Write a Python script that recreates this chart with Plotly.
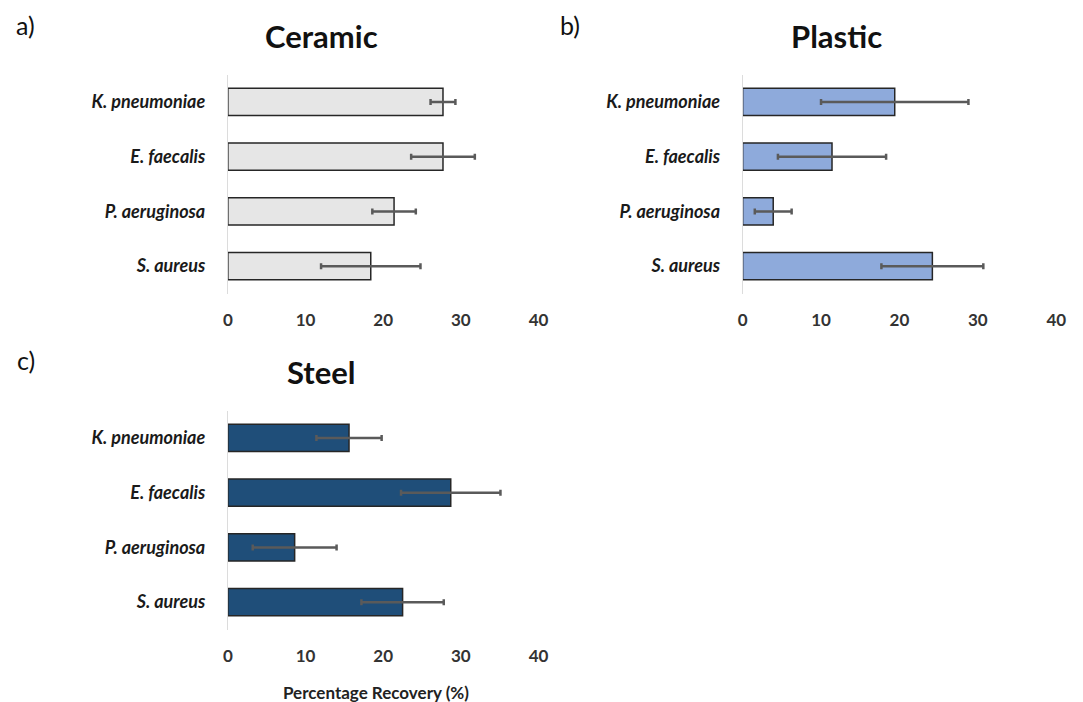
import plotly.graph_objects as go

# Bacterial species (top to bottom)
species = ["K. pneumoniae", "E. faecalis", "P. aeruginosa", "S. aureus"]

# Mean percentage recovery and error (SD) per surface
ceramic_mean = [27.7, 27.7, 21.4, 18.4]
ceramic_err = [1.6, 4.1, 2.8, 6.4]

plastic_mean = [19.4, 11.4, 3.9, 24.2]
plastic_err = [9.4, 6.9, 2.35, 6.5]

steel_mean = [15.6, 28.7, 8.6, 22.5]
steel_err = [4.2, 6.4, 5.4, 5.3]

x_ticks = [0, 10, 20, 30, 40]

W, H = 1083, 702
FONT = "Lato"

panels = [
    # name, means, errors, fill, xaxis id, yaxis id, x domain px, y domain px
    ("Ceramic", ceramic_mean, ceramic_err, "#e6e6e6", "x", "y", (226, 541), (74.5, 293.5)),
    ("Plastic", plastic_mean, plastic_err, "#8eaadb", "x2", "y2", (748, 1066), (74.5, 293.5)),
    ("Steel", steel_mean, steel_err, "#1f4e79", "x3", "y3", (226, 541), (410.5, 629.5)),
]

fig = go.Figure()

for name, means, errs, fill, xa, ya, _, _ in panels:
    fig.add_trace(go.Bar(
        x=means,
        y=species,
        orientation="h",
        width=0.5,
        marker=dict(color=fill, line=dict(color="#262626", width=1.5)),
        error_x=dict(type="data", array=errs, visible=True,
                     color="#5a5a5a", thickness=2.5, width=3),
        xaxis=xa,
        yaxis=ya,
        name=name,
        showlegend=False,
    ))

layout = dict(
    width=W,
    height=H,
    margin=dict(l=0, r=0, t=0, b=0),
    paper_bgcolor="white",
    plot_bgcolor="white",
    font=dict(family=FONT),
)

for i, (name, means, errs, fill, xa, ya, xd, yd) in enumerate(panels):
    suffix = "" if i == 0 else str(i + 1)
    layout["xaxis" + suffix] = dict(
        domain=[xd[0] / W, xd[1] / W],
        range=[0, 40],
        tickvals=x_ticks,
        ticktext=[str(t) for t in x_ticks],
        showgrid=False,
        zeroline=False,
        showline=False,
        ticks="",
        ticklabelstandoff=14,
        tickfont=dict(family=FONT, size=17, color="#333333", weight="bold"),
        anchor=ya,
        fixedrange=True,
    )
    layout["yaxis" + suffix] = dict(
        domain=[1 - yd[1] / H, 1 - yd[0] / H],
        categoryorder="array",
        categoryarray=species,
        autorange="reversed",
        showgrid=False,
        zeroline=False,
        showline=True,
        linecolor="#dcdcdc",
        linewidth=1,
        ticks="",
        ticklabelstandoff=18,
        tickfont=dict(family=FONT, size=18, color="#1a1a1a", weight="bold", style="italic"),
        anchor=xa,
        fixedrange=True,
    )

annotations = []
# Panel titles
for name, (cx, cy) in zip(["Ceramic", "Plastic", "Steel"], [(321, 36), (843, 36), (321, 372)]):
    annotations.append(dict(
        text=name, x=cx / W, y=1 - cy / H, xref="paper", yref="paper",
        xanchor="center", yanchor="middle", showarrow=False,
        font=dict(family=FONT, size=31, color="#111111", weight="bold"),
    ))
# Panel letters
for letter, (cx, cy) in zip(["a)", "b)", "c)"], [(21, 25), (573, 25), (21, 360)]):
    annotations.append(dict(
        text=letter, x=cx / W, y=1 - cy / H, xref="paper", yref="paper",
        xanchor="center", yanchor="middle", showarrow=False,
        font=dict(family=FONT, size=25, color="#111111"),
    ))
# Shared x-axis title
annotations.append(dict(
    text="Percentage Recovery (%)", x=376 / W, y=1 - 692 / H,
    xref="paper", yref="paper", xanchor="center", yanchor="middle", showarrow=False,
    font=dict(family=FONT, size=17, color="#222222", weight="bold"),
))

layout["annotations"] = annotations
fig.update_layout(**layout)

fig.write_html("out.html")
